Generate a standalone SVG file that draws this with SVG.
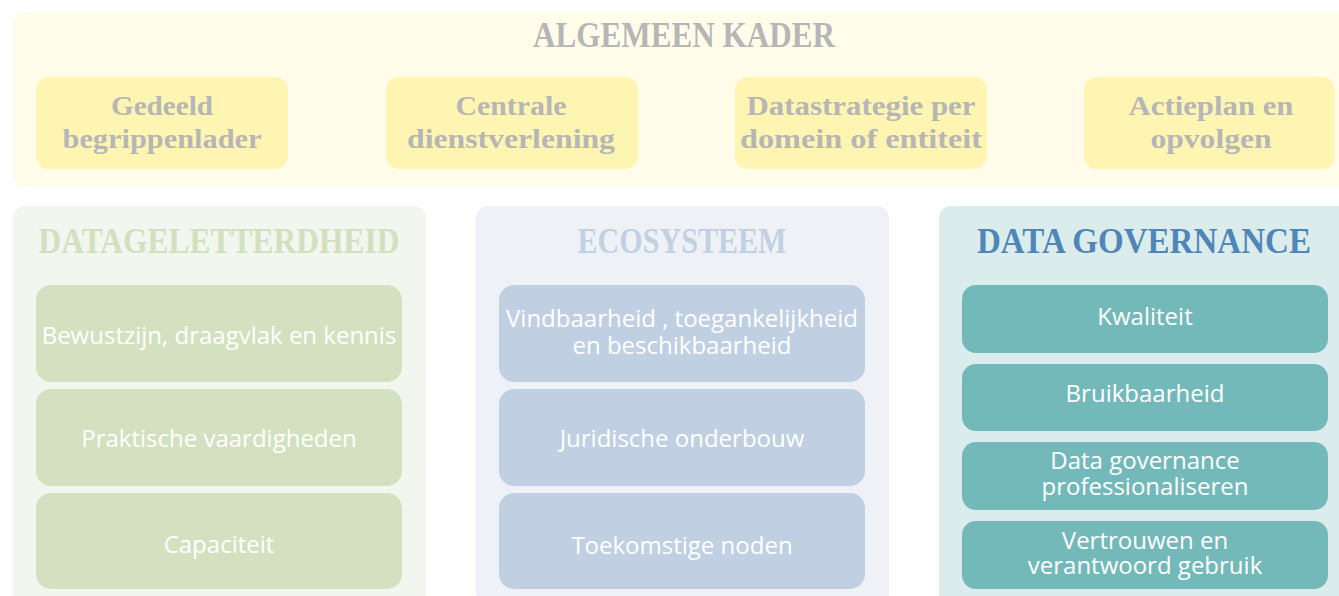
<svg xmlns="http://www.w3.org/2000/svg" width="1339" height="596" viewBox="0 0 1339 596">
<style>
.ttl{font-family:"Liberation Serif","DejaVu Serif",serif;font-weight:bold;text-anchor:middle;font-size:36px}
.top{font-family:"Liberation Serif","DejaVu Serif",serif;font-weight:bold;font-size:27px;fill:#b6b6b6;text-anchor:middle}
.lbl{font-family:"Open Sans","Noto Sans",sans-serif;font-size:24px;fill:#ffffff;text-anchor:middle}
.ybox{fill:#fff5b2}
.gbox{fill:#d3e1c0}
.bbox{fill:#c0d0e2}
.tbox{fill:#74b9ba}
</style>
<rect width="1339" height="596" fill="#ffffff"/>
<g id="algemeen-kader">
<rect x="13" y="12" width="1340" height="175" rx="12" fill="#fffdea"/>
<text class="ttl" x="684" y="47" fill="#b6b6b6" font-size="33" textLength="302" lengthAdjust="spacingAndGlyphs">ALGEMEEN KADER</text>
</g>
<g id="gedeeld">
<rect class="ybox" x="36" y="77" width="252" height="92" rx="13"/>
<text class="top" x="162" y="115" textLength="102" lengthAdjust="spacingAndGlyphs">Gedeeld</text>
<text class="top" x="162" y="148" textLength="199" lengthAdjust="spacingAndGlyphs">begrippenlader</text>
</g>
<g id="centrale">
<rect class="ybox" x="386" y="77" width="252" height="92" rx="13"/>
<text class="top" x="511" y="115" textLength="111" lengthAdjust="spacingAndGlyphs">Centrale</text>
<text class="top" x="511" y="148" textLength="208" lengthAdjust="spacingAndGlyphs">dienstverlening</text>
</g>
<g id="datastrategie">
<rect class="ybox" x="735" y="77" width="252" height="92" rx="13"/>
<text class="top" x="861" y="115" textLength="229" lengthAdjust="spacingAndGlyphs">Datastrategie per</text>
<text class="top" x="861" y="148" textLength="242" lengthAdjust="spacingAndGlyphs">domein of entiteit</text>
</g>
<g id="actieplan">
<rect class="ybox" x="1084" y="77" width="251" height="92" rx="13"/>
<text class="top" x="1211" y="115" textLength="165" lengthAdjust="spacingAndGlyphs">Actieplan en</text>
<text class="top" x="1211" y="148" textLength="121" lengthAdjust="spacingAndGlyphs">opvolgen</text>
</g>
<g id="datageletterdheid">
<rect x="13" y="206" width="413" height="400" rx="12" fill="#f1f6ee"/>
<text class="ttl" x="219" y="253" fill="#d2e0bf" textLength="361" lengthAdjust="spacingAndGlyphs">DATAGELETTERDHEID</text>
</g>
<g id="bewustzijn">
<rect class="gbox" x="36" y="285" width="366" height="97" rx="15"/>
<text class="lbl" x="219" y="344">Bewustzijn, draagvlak en kennis</text>
</g>
<g id="praktische">
<rect class="gbox" x="36" y="389" width="366" height="97" rx="15"/>
<text class="lbl" x="219" y="447">Praktische vaardigheden</text>
</g>
<g id="capaciteit">
<rect class="gbox" x="36" y="493" width="366" height="96" rx="15"/>
<text class="lbl" x="219" y="553">Capaciteit</text>
</g>
<g id="ecosysteem">
<rect x="476" y="206" width="413" height="400" rx="12" fill="#eef2f7"/>
<text class="ttl" x="682" y="253" fill="#c1d1e3" textLength="209" lengthAdjust="spacingAndGlyphs">ECOSYSTEEM</text>
</g>
<g id="vindbaarheid">
<rect class="bbox" x="499" y="285" width="366" height="97" rx="15"/>
<text class="lbl" x="682" y="327">Vindbaarheid , toegankelijkheid</text>
<text class="lbl" x="682" y="354">en beschikbaarheid</text>
</g>
<g id="juridische">
<rect class="bbox" x="499" y="389" width="366" height="97" rx="15"/>
<text class="lbl" x="682" y="447">Juridische onderbouw</text>
</g>
<g id="toekomstige">
<rect class="bbox" x="499" y="493" width="366" height="96" rx="15"/>
<text class="lbl" x="682" y="554">Toekomstige noden</text>
</g>
<g id="data-governance">
<rect x="939" y="206" width="420" height="400" rx="12" fill="#dbeced"/>
<text class="ttl" x="1144" y="253" fill="#4f86b8" textLength="334" lengthAdjust="spacingAndGlyphs">DATA GOVERNANCE</text>
</g>
<g id="kwaliteit">
<rect class="tbox" x="962" y="285" width="366" height="68" rx="14"/>
<text class="lbl" x="1145" y="325">Kwaliteit</text>
</g>
<g id="bruikbaarheid">
<rect class="tbox" x="962" y="364" width="366" height="67" rx="14"/>
<text class="lbl" x="1145" y="402">Bruikbaarheid</text>
</g>
<g id="professionaliseren">
<rect class="tbox" x="962" y="442" width="366" height="68" rx="14"/>
<text class="lbl" x="1145" y="469">Data governance</text>
<text class="lbl" x="1145" y="495">professionaliseren</text>
</g>
<g id="vertrouwen">
<rect class="tbox" x="962" y="521" width="366" height="68" rx="14"/>
<text class="lbl" x="1145" y="549">Vertrouwen en</text>
<text class="lbl" x="1145" y="574">verantwoord gebruik</text>
</g>
<g id="connectors"/>
</svg>
